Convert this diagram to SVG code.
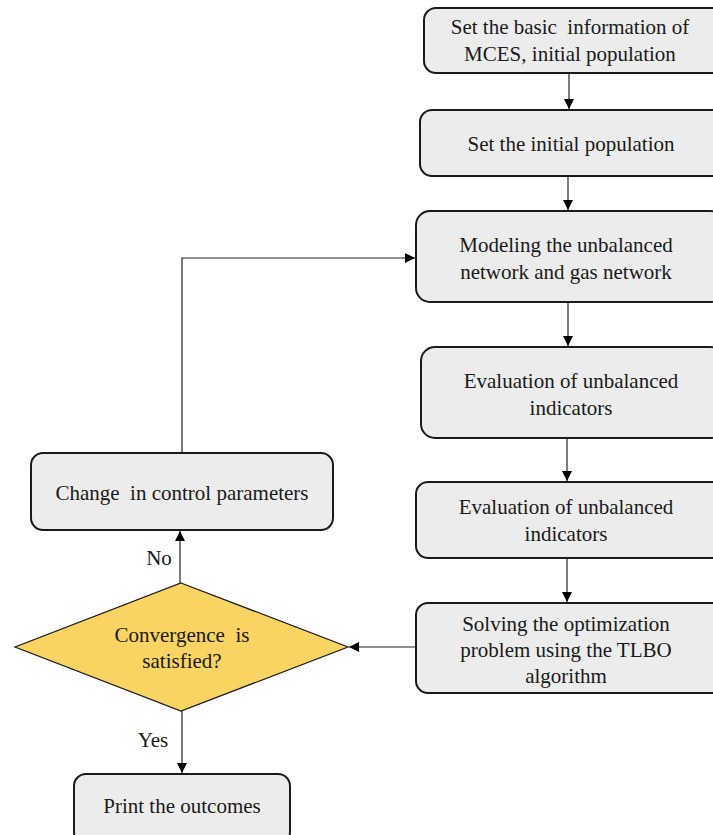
<svg xmlns="http://www.w3.org/2000/svg" width="713" height="835" viewBox="0 0 713 835">
<style>
.box{fill:#ececec;stroke:#1a1a1a;stroke-width:2}
.dia{fill:#f9d462;stroke:#1a1a1a;stroke-width:1.2}
.t{font-family:"Liberation Serif","Times New Roman",serif;font-size:21px;fill:#1a1a1a;text-anchor:middle}
.c{fill:none;stroke:#222;stroke-width:1.2}
</style>
<defs>
<marker id="ah" viewBox="0 0 10 10" refX="10" refY="5" markerWidth="10" markerHeight="10" markerUnits="userSpaceOnUse" orient="auto">
<path d="M0,0 L10,5 L0,10 Z" fill="#000"/>
</marker>
</defs>
<rect width="713" height="835" fill="#fff"/>
<g id="connectors">
<line class="c" x1="569" y1="74" x2="569" y2="109" marker-end="url(#ah)"/>
<line class="c" x1="568" y1="177" x2="568" y2="210" marker-end="url(#ah)"/>
<line class="c" x1="568" y1="303" x2="568" y2="346" marker-end="url(#ah)"/>
<line class="c" x1="567" y1="439" x2="567" y2="481" marker-end="url(#ah)"/>
<line class="c" x1="567" y1="559" x2="567" y2="602" marker-end="url(#ah)"/>
<line class="c" x1="416" y1="647" x2="349" y2="647" marker-end="url(#ah)"/>
<line class="c" x1="180" y1="583" x2="180" y2="531" marker-end="url(#ah)"/>
<polyline class="c" points="182,453 182,258 415,258" marker-end="url(#ah)"/>
<line class="c" x1="182" y1="711" x2="182" y2="773" marker-end="url(#ah)"/>
<text class="t" x="159" y="565">No</text>
<text class="t" x="153" y="747">Yes</text>
</g>
<g id="n1">
<rect class="box" x="424" y="8" width="300" height="65" rx="12"/>
<text class="t" x="570" y="34" xml:space="preserve">Set the basic  information of</text>
<text class="t" x="570" y="61">MCES, initial population</text>
</g>
<g id="n2">
<rect class="box" x="420" y="110" width="304" height="66" rx="12"/>
<text class="t" x="571" y="151">Set the initial population</text>
</g>
<g id="n3">
<rect class="box" x="416" y="211" width="308" height="91" rx="14"/>
<text class="t" x="566" y="252">Modeling the unbalanced</text>
<text class="t" x="566" y="279">network and gas network</text>
</g>
<g id="n4">
<rect class="box" x="421" y="347" width="303" height="91" rx="14"/>
<text class="t" x="571" y="388">Evaluation of unbalanced</text>
<text class="t" x="571" y="415">indicators</text>
</g>
<g id="n5">
<rect class="box" x="416" y="482" width="308" height="76" rx="12"/>
<text class="t" x="566" y="514">Evaluation of unbalanced</text>
<text class="t" x="566" y="541">indicators</text>
</g>
<g id="n6">
<rect class="box" x="416" y="603" width="308" height="90" rx="12"/>
<text class="t" x="566" y="631">Solving the optimization</text>
<text class="t" x="566" y="657">problem using the TLBO</text>
<text class="t" x="566" y="683">algorithm</text>
</g>
<g id="n7">
<rect class="box" x="31" y="453" width="302" height="77" rx="12"/>
<text class="t" x="182" y="500" xml:space="preserve">Change  in control parameters</text>
</g>
<g id="n8">
<polygon class="dia" points="181,583 348,647 181,711 15,647"/>
<text class="t" x="182" y="642" xml:space="preserve">Convergence  is</text>
<text class="t" x="182" y="668">satisfied?</text>
</g>
<g id="n9">
<rect class="box" x="74" y="774" width="216" height="70" rx="12"/>
<text class="t" x="182" y="813">Print the outcomes</text>
</g>
</svg>
